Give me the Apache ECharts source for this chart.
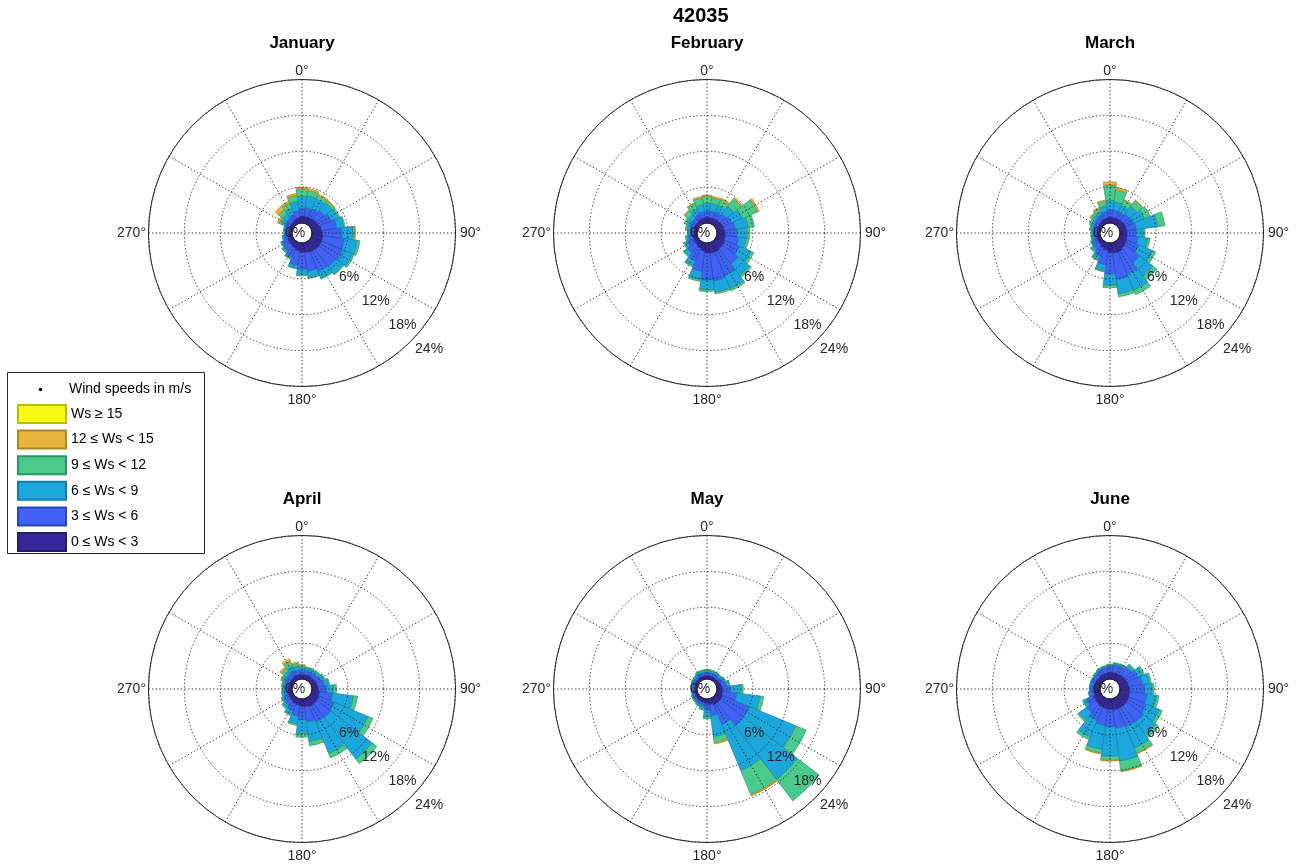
<!DOCTYPE html>
<html>
<head>
<meta charset="utf-8">
<script src="https://cdn.jsdelivr.net/npm/echarts@6.0.0/dist/echarts.min.js"></script>
<style>
html,body{margin:0;padding:0;background:#fff;}
#chart{width:1297px;height:866px;}
</style>
</head>
<body>
<div id="chart"></div>
<script>
// ---------------- DATA ----------------
const figureTitle = '42035';
const months = ['January', 'February', 'March', 'April', 'May', 'June'];
const directions = [0, 15, 30, 45, 60, 75, 90, 105, 120, 135, 150, 165, 180, 195, 210, 225, 240, 255, 270, 285, 300, 315, 330, 345];
const speedBins = ['0 ≤ Ws < 3', '3 ≤ Ws < 6', '6 ≤ Ws < 9', '9 ≤ Ws < 12', '12 ≤ Ws < 15', 'Ws ≥ 15'];
const legendHeader = 'Wind speeds in m/s';
const radialTicks = [0, 6, 12, 18, 24];
const radialTickLabels = ['0%', '6%', '12%', '18%', '24%'];
const angleTicks = [0, 90, 180, 270];
const angleTickLabels = ['0°', '90°', '180°', '270°'];

// frequencies (%) per direction, per wind-speed bin
const jan_ws0_3   = [1.2,1.2,1.2,1.3,1.4,1.6,1.8,1.9,1.9,1.9,1.8,1.7,1.6,1.4,1.1,1.0,0.9,0.8,0.7,0.7,0.7,0.7,0.8,1.0];
const jan_ws3_6   = [1.3,1.4,1.5,1.8,2.2,2.6,3.2,3.6,3.8,3.6,3.5,3.1,2.8,2.4,1.6,1.2,1.0,0.7,0.5,0.5,0.7,0.8,0.9,1.1];
const jan_ws6_9   = [2.0,2.0,1.8,1.6,1.3,1.2,1.9,2.2,1.8,1.5,1.2,1.0,0.9,0.5,0.3,0.3,0.2,0.2,0.2,0.2,0.6,0.9,1.2,1.6];
const jan_ws9_12  = [1.2,0.9,0.7,0.5,0.3,0.2,0.3,0.4,0.3,0.2,0.2,0.2,0.2,0.1,0.1,0.1,0.1,0,0,0.1,0.5,0.9,0.9,1.0];
const jan_ws12_15 = [0.3,0.3,0.2,0.1,0,0,0.05,0,0,0,0,0,0,0,0,0,0,0,0,0,0.3,0.7,0.3,0.3];
const jan_ws15    = [0,0,0,0,0,0,0,0,0,0,0,0,0,0,0,0,0,0,0,0,0,0,0,0];

const feb_ws0_3   = [1.0,1.0,1.0,1.1,1.2,1.3,1.4,1.5,1.6,1.7,1.8,1.8,1.7,1.4,1.1,0.9,0.8,0.7,0.6,0.6,0.7,0.7,0.8,0.9];
const feb_ws3_6   = [1.0,1.0,1.1,1.3,1.6,1.8,2.0,2.2,2.6,3.2,4.2,4.6,4.5,3.4,2.3,1.6,1.1,0.8,0.6,0.7,0.7,0.8,0.9,1.0];
const feb_ws6_9   = [1.3,1.3,1.2,1.6,1.9,2.2,1.6,1.3,2.1,2.4,2.4,1.9,1.6,1.4,0.9,0.7,0.5,0.4,0.3,0.4,0.6,0.8,1.0,1.2];
const feb_ws9_12  = [1.2,1.0,1.1,1.6,2.8,1.0,0.5,0.4,0.5,0.4,0.4,0.3,0.3,0.3,0.2,0.2,0.2,0.1,0.1,0.3,0.5,0.8,1.0,1.2];
const feb_ws12_15 = [0.2,0.2,0.2,0.2,0.3,0,0,0,0,0,0,0,0,0,0,0,0,0,0,0,0,0.1,0.1,0.2];
const feb_ws15    = [0,0,0,0,0,0,0,0,0,0,0,0,0,0,0,0,0,0,0,0,0,0,0,0];

const mar_ws0_3   = [1.0,1.0,1.0,1.1,1.2,1.2,1.2,1.3,1.4,1.6,1.8,1.8,1.6,1.3,1.0,0.8,0.7,0.6,0.6,0.6,0.6,0.7,0.8,0.9];
const mar_ws3_6   = [1.2,1.2,1.1,1.3,1.4,1.6,1.5,1.8,2.2,3.0,4.0,4.4,3.6,2.4,1.6,1.1,0.8,0.6,0.5,0.6,0.7,0.8,0.8,1.0];
const mar_ws6_9   = [1.6,1.4,1.2,1.6,2.0,3.6,1.2,1.6,2.4,2.8,2.9,2.4,1.9,1.0,0.6,0.4,0.3,0.3,0.3,0.4,0.5,0.6,0.6,1.0];
const mar_ws9_12  = [2.6,2.0,1.0,1.2,1.0,1.2,0.3,0.4,0.6,0.8,0.8,0.5,0.4,0.2,0.2,0.2,0.1,0.1,0.1,0.2,0.3,0.4,0.6,0.8];
const mar_ws12_15 = [0.5,0.4,0.1,0.1,0,0,0,0,0,0,0,0,0,0,0,0,0,0,0,0,0,0.1,0.2,0.2];
const mar_ws15    = [0,0,0,0,0,0,0,0,0,0,0,0,0,0,0,0,0,0,0,0,0,0,0,0];

const apr_ws0_3   = [0.8,0.8,0.8,0.8,0.9,1.0,1.1,1.3,1.4,1.5,1.5,1.4,1.3,1.1,1.0,0.9,0.8,0.7,0.7,0.7,0.7,0.7,0.8,0.8];
const apr_ws3_6   = [0.7,0.7,0.7,0.8,0.9,1.1,1.3,2.2,2.8,2.9,2.8,2.5,2.2,1.8,1.3,1.0,0.8,0.7,0.6,0.6,0.7,0.8,0.9,0.8];
const apr_ws6_9   = [0.5,0.4,0.4,0.4,0.5,0.7,1.2,3.5,6.1,8.7,5.7,3.3,2.3,1.3,0.7,0.5,0.4,0.3,0.3,0.3,0.4,0.6,0.8,0.6];
const apr_ws9_12  = [0.3,0.2,0.2,0.2,0.2,0.2,0.5,0.7,0.9,1.0,0.8,0.7,0.6,0.3,0.2,0.2,0.1,0.1,0.1,0.2,0.3,0.6,0.9,0.5];
const apr_ws12_15 = [0.1,0,0,0,0,0,0,0,0,0,0,0,0,0,0,0,0,0,0,0,0.1,0.3,0.4,0.2];
const apr_ws15    = [0,0,0,0,0,0,0,0,0,0,0,0,0,0,0,0,0,0,0,0,0,0,0,0];

const may_ws0_3   = [0.6,0.6,0.6,0.6,0.7,0.8,0.9,1.0,1.2,1.2,1.2,1.0,0.8,0.7,0.6,0.6,0.5,0.5,0.5,0.5,0.5,0.5,0.6,0.6];
const may_ws3_6   = [0.5,0.5,0.5,0.5,0.6,0.8,1.4,2.4,4.8,4.9,3.6,1.9,1.1,0.6,0.5,0.4,0.4,0.3,0.3,0.3,0.4,0.4,0.5,0.5];
const may_ws6_9   = [0.3,0.3,0.3,0.3,0.3,0.5,1.7,3.9,8.4,11.3,8.3,3.5,1.1,0.4,0.3,0.2,0.2,0.2,0.2,0.2,0.2,0.3,0.3,0.3];
const may_ws9_12  = [0.2,0.2,0.1,0.1,0.1,0.1,0.4,0.6,1.9,4.5,4.4,1.0,0.3,0.2,0.1,0.1,0.1,0,0,0.1,0.1,0.1,0.2,0.2];
const may_ws12_15 = [0,0,0,0,0,0,0,0,0,0,0.2,0.2,0,0,0,0,0,0,0,0,0,0,0,0];
const may_ws15    = [0,0,0,0,0,0,0,0,0,0,0,0,0,0,0,0,0,0,0,0,0,0,0,0];

const jun_ws0_3   = [1.2,1.2,1.2,1.3,1.4,1.5,1.6,1.7,1.8,1.9,1.9,1.9,1.8,1.7,1.6,1.4,1.3,1.1,1.0,1.0,1.0,1.0,1.1,1.1];
const jun_ws3_6   = [1.0,1.2,1.3,1.6,2.0,2.3,2.6,2.9,3.2,3.4,3.3,3.1,2.9,2.8,2.4,1.9,1.3,0.7,0.6,0.6,0.6,0.7,0.8,0.9];
const jun_ws6_9   = [0.2,0.3,0.3,0.5,0.9,1.2,1.2,1.6,2.3,2.7,3.8,5.5,4.9,4.0,3.0,1.6,0.6,0.2,0.2,0.2,0.2,0.2,0.2,0.2];
const jun_ws9_12  = [0.1,0.1,0.1,0.2,0.3,0.3,0.3,0.4,0.5,0.6,1.0,1.7,0.7,0.7,0.5,0.3,0.1,0,0,0,0,0.1,0.1,0.1];
const jun_ws12_15 = [0,0,0,0,0,0,0,0,0,0,0.1,0.1,0.1,0.1,0,0,0,0,0,0,0,0,0,0];
const jun_ws15    = [0,0,0,0,0,0,0,0,0,0,0,0,0,0,0,0,0,0,0,0,0,0,0,0];

const monthlyData = [
  [jan_ws0_3, jan_ws3_6, jan_ws6_9, jan_ws9_12, jan_ws12_15, jan_ws15],
  [feb_ws0_3, feb_ws3_6, feb_ws6_9, feb_ws9_12, feb_ws12_15, feb_ws15],
  [mar_ws0_3, mar_ws3_6, mar_ws6_9, mar_ws9_12, mar_ws12_15, mar_ws15],
  [apr_ws0_3, apr_ws3_6, apr_ws6_9, apr_ws9_12, apr_ws12_15, apr_ws15],
  [may_ws0_3, may_ws3_6, may_ws6_9, may_ws9_12, may_ws12_15, may_ws15],
  [jun_ws0_3, jun_ws3_6, jun_ws6_9, jun_ws9_12, jun_ws12_15, jun_ws15]
];

// ---------------- STYLE / LAYOUT ----------------
const FONT = "'Liberation Sans', Arial, Helvetica, sans-serif";
const binColors  = ['#37299b', '#3f63f4', '#1ba7de', '#49c98b', '#e8b43a', '#f9fa14'];
const binBorders = ['#241a6e', '#2a45b6', '#147ca6', '#2f9566', '#ad8526', '#bcbc0c'];
const centers = [[302, 233], [707, 233], [1110, 233], [302, 689], [707, 689], [1110, 689]];
const polarRadius = [10, 153.5];
const gridLine = { type: [1.3, 2.3], color: '#2a2a2a', width: 1 };
const textGrey = '#262626';
const angleLabelOffsets = [[0, -8], [15, 0], [0, 14], [-17, 0]];

const title = [{
  text: figureTitle, left: 673, top: 6, padding: 0,
  textStyle: { fontSize: 20, fontWeight: 'bold', color: '#000', fontFamily: FONT }
}];
const polar = [], angleAxis = [], radiusAxis = [], series = [];

// data polars (0..5)
months.forEach((m, i) => {
  const c = centers[i];
  title.push({
    text: m, left: c[0], top: c[1] - 198, textAlign: 'center', padding: 0,
    textStyle: { fontSize: 17, fontWeight: 'bold', color: '#000', fontFamily: FONT }
  });
  polar.push({ center: c, radius: polarRadius });
  angleAxis.push({
    polarIndex: i, type: 'category', data: directions.map(String),
    startAngle: 97.5, clockwise: true, boundaryGap: true,
    axisLine: { show: false }, axisTick: { show: false },
    axisLabel: { show: false }, splitLine: { show: false }
  });
  radiusAxis.push({
    polarIndex: i, type: 'value', min: 0, max: 24,
    axisLine: { show: false }, axisTick: { show: false },
    axisLabel: { show: false }, splitLine: { show: false }
  });
  monthlyData[i].forEach((arr, b) => {
    series.push({
      type: 'bar', name: speedBins[b], coordinateSystem: 'polar', polarIndex: i,
      stack: 'rose' + i, barCategoryGap: '0%', z: 2, silent: true, animation: false,
      data: arr.map(v => (v === 0 ? '-' : v)),
      itemStyle: { color: binColors[b], borderColor: binBorders[b], borderWidth: 0.7 },
      emphasis: { disabled: true }
    });
  });
});

// grid polars (6..11), drawn above the bars
months.forEach((m, i) => {
  const gi = 6 + i;
  polar.push({ center: centers[i], radius: polarRadius });
  angleAxis.push({
    polarIndex: gi, type: 'value', min: 0, max: 360, interval: 30,
    startAngle: 90, clockwise: true, z: 5,
    axisLine: { show: true, lineStyle: { color: textGrey, width: 1 } },
    axisTick: { show: false },
    axisLabel: { show: false },
    splitLine: { show: true, lineStyle: gridLine }
  });
  radiusAxis.push({
    polarIndex: gi, type: 'value', min: 0, max: 24, interval: 6, z: 5,
    axisLine: { show: false }, axisTick: { show: false }, axisLabel: { show: false },
    splitLine: { show: true, showMinLine: false, showMaxLine: false, lineStyle: gridLine }
  });
  // radial tick labels
  series.push({
    type: 'scatter', coordinateSystem: 'polar', polarIndex: gi, z: 6,
    silent: true, animation: false, symbolSize: 1,
    itemStyle: { color: 'rgba(0,0,0,0)', opacity: 1 },
    data: radialTicks.map((t, k) => ({
      value: [t, t === 0 ? 270 : 132],
      label: { formatter: radialTickLabels[k], offset: t === 0 ? [3, 0] : [13, 13] }
    })),
    label: { show: true, position: 'inside', color: textGrey, fontSize: 14, fontFamily: FONT, opacity: 1 }
  });
  // angle tick labels
  series.push({
    type: 'scatter', coordinateSystem: 'polar', polarIndex: gi, z: 6,
    silent: true, animation: false, symbolSize: 1,
    itemStyle: { color: 'rgba(0,0,0,0)', opacity: 1 },
    data: angleTicks.map((a, k) => ({
      value: [24, a],
      label: { formatter: angleTickLabels[k], offset: angleLabelOffsets[k] }
    })),
    label: { show: true, position: 'inside', color: textGrey, fontSize: 14, fontFamily: FONT, opacity: 1 }
  });
});

const option = {
  backgroundColor: '#ffffff',
  animation: false,
  title: title,
  polar: polar,
  angleAxis: angleAxis,
  radiusAxis: radiusAxis,
  legend: {
    show: true, orient: 'vertical', left: 17, top: 404, padding: 0,
    itemWidth: 48, itemHeight: 18, itemGap: 5.6, icon: 'rect',
    selectedMode: false,
    data: speedBins.slice().reverse(),
    textStyle: { fontSize: 14, color: '#000', fontFamily: FONT }
  },
  graphic: [
    { type: 'rect', z: 0, shape: { x: 7.5, y: 372.5, width: 197, height: 181 },
      style: { fill: '#fff', stroke: '#262626', lineWidth: 1 } },
    { type: 'circle', z: 1, shape: { cx: 40.5, cy: 389.5, r: 1.8 }, style: { fill: '#000' } },
    { type: 'text', z: 1, x: 69, y: 389.5,
      style: { text: legendHeader, fill: '#000', font: '14px ' + FONT, verticalAlign: 'middle' } }
  ],
  series: series
};

const chart = echarts.init(document.getElementById('chart'), null, { renderer: 'canvas' });
chart.setOption(option);
</script>
</body>
</html>
